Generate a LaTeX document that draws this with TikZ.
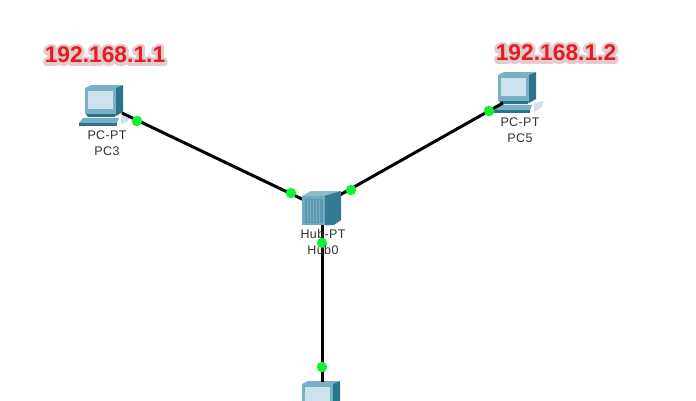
\documentclass[tikz,border=0pt]{standalone}
\usepackage{fontspec}
\setmainfont{Liberation Sans}
\newfontfamily\ipfont{Liberation Sans Bold}
\definecolor{linkgreen}{RGB}{20,240,50}
\definecolor{ipred}{RGB}{228,28,36}
\definecolor{scrfill}{RGB}{204,226,236}
\definecolor{scrmid}{RGB}{120,176,196}
\definecolor{scrdark}{RGB}{44,116,140}
\definecolor{hubfront}{RGB}{112,170,192}
\definecolor{hubside}{RGB}{52,122,146}
\definecolor{hubtop}{RGB}{140,188,206}
\definecolor{hubgrill}{RGB}{92,152,176}
\definecolor{labelgray}{RGB}{50,50,50}
\newcommand{\halotext}[1]{\special{pdf:code q 1 Tr 1 j 6 w 0.90 0.80 0.80 RG}#1\special{pdf:code Q}}
\tikzset{
  x=1pt,y=-1pt,
  linkline/.style={draw=black,line width=3pt},
  light/.style={circle,fill=linkgreen,inner sep=0pt,minimum size=10.5pt},
  devlabel/.style={font=\fontsize{12.5}{15}\selectfont\addfontfeatures{LetterSpace=3},text=labelgray,align=center,inner sep=0pt},
  iplabel/.style={font=\ipfont\fontsize{22.8}{24}\selectfont,text=ipred,inner sep=0pt},
  ipglow/.style={font=\ipfont\fontsize{22.8}{24}\selectfont,inner sep=0pt},
  pics/pcicon/.style={code={
    % monitor side and top
    \fill[scrdark] (30,3) -- (38,0) -- (38,27) -- (31,31) -- cycle;
    \fill[scrmid] (0,3) -- (6,0) -- (38,0) -- (30,3) -- cycle;
    % monitor front
    \fill[scrmid] (0,3) rectangle (31,29);
    \fill[scrfill] (3,6) rectangle (28,24);
    % stand and base
    \fill[scrdark] (1,29) -- (31,29) -- (30,32) -- (3,32) -- cycle;
    \fill[scrmid] (-2,33) -- (34,33) -- (32,38) -- (-6,38) -- cycle;
    \fill[scrdark] (-6,38) rectangle (32,41);
    % mouse side
    \fill[scrfill] (36,31) -- (46,29) -- (43,36) -- (36,40) -- cycle;
  }},
}
\begin{document}
\begin{tikzpicture}
\useasboundingbox (0,0) rectangle (696,400);
\clip (0,0) rectangle (696,400);
\fill[white] (0,0) rectangle (696,400);
% PCs
\pic at (85,85) {pcicon};
\pic at (498,72) {pcicon};
\pic at (302,381) {pcicon};
% anchors of the devices
\coordinate (pc3) at (122,113);
\coordinate (pc5) at (503,103);
\coordinate (pc6) at (322,382);
\coordinate (hubL) at (304,200);
\coordinate (hubR) at (338,196);
\coordinate (hubB) at (322,222);
% links
\draw[linkline] (pc3) -- (hubL);
\draw[linkline] (pc5) -- (hubR);
\draw[linkline] (hubB) -- (pc6);
% hub
\fill[hubtop] (302,196) -- (311,191) -- (341,191) -- (334,196) -- cycle;
\fill[hubside] (324,196) -- (341,191) -- (341,220) -- (334,225) -- (324,225) -- cycle;
\fill[hubfront] (302,196) rectangle (325,225);
\fill[hubgrill] (305,199) rectangle (323,223);
\foreach \x in {307,310,313,316,319}{\draw[scrmid,line width=.8pt] (\x,200) -- (\x,222);}
% lights
\node[light] (l1) at (137,121) {};
\node[light] (l2) at (291,193) {};
\node[light] (l3) at (351,190) {};
\node[light] (l4) at (489,111) {};
\node[light] (l5) at (322,243) {};
\node[light] (l6) at (322,367) {};
% labels
\node[devlabel] (t1) at (107,143) {PC-PT\\[1pt]PC3};
\node[devlabel] (t2) at (520,130) {PC-PT\\[1pt]PC5};
\node[devlabel] (t3) at (323,242) {Hub-PT\\[1pt]Hub0};
\node[ipglow] at (105,55) {\halotext{192.168.1.1}};
\node[ipglow] at (556,53) {\halotext{192.168.1.2}};
\node[iplabel] (ip1) at (105,55) {192.168.1.1};
\node[iplabel] (ip2) at (556,53) {192.168.1.2};
\end{tikzpicture}
\end{document}
